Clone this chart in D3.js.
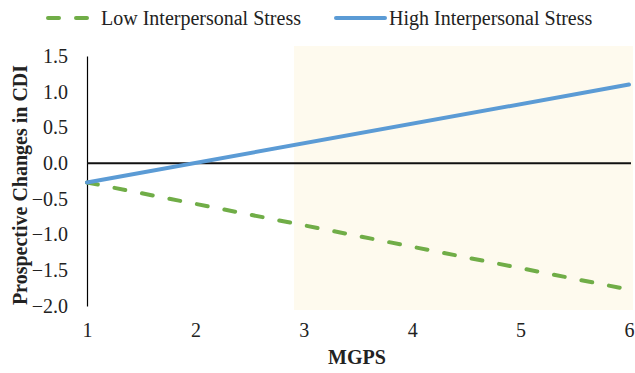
<!DOCTYPE html>
<html>
<head>
<meta charset="utf-8">
<script src="https://cdn.jsdelivr.net/npm/d3@7"></script>
<style>
  html, body { margin: 0; padding: 0; background: #fff; }
  svg { display: block; }
  text { font-family: "Liberation Serif", "Times New Roman", serif; fill: #222; }
</style>
</head>
<body>
<svg id="chart" width="635" height="373"></svg>
<script>
// ---- Data ----
const xTicks = [1, 2, 3, 4, 5, 6];
const yTicks = [1.5, 1.0, 0.5, 0.0, -0.5, -1.0, -1.5, -2.0];
const mgps = [1, 6];
const lowStress = [-0.27, -1.77];
const highStress = [-0.27, 1.10];
const regionStart = 2.91;   // start of shaded region (MGPS)
const seriesNames = ["Low Interpersonal Stress", "High Interpersonal Stress"];

// ---- Layout ----
const svg = d3.select("#chart");
const x = d3.scaleLinear().domain([1, 6]).range([87, 629]);
const y = d3.scaleLinear().domain([-2, 1.5]).range([306, 56]);

const green = "#70ad47", blue = "#5b9bd5";

// shaded region
svg.append("rect")
  .attr("x", x(regionStart))
  .attr("y", y(1.5) - 10)
  .attr("width", x(6) + 4 - x(regionStart))
  .attr("height", y(-2) + 4 - (y(1.5) - 10))
  .attr("fill", "#fefaee");

// y axis
const yAxis = svg.append("g")
  .attr("transform", `translate(${x(1)},0)`)
  .call(d3.axisLeft(y).tickValues(yTicks).tickSize(0).tickPadding(19).tickFormat(d3.format(".1f")));
yAxis.select(".domain").attr("stroke", "#000").attr("stroke-width", 1.2);
yAxis.selectAll("text").attr("font-size", 20).attr("font-family", "Liberation Serif").attr("fill", "#222");

// x axis (labels only)
const xAxis = svg.append("g")
  .attr("transform", `translate(0,${y(-2)})`)
  .call(d3.axisBottom(x).tickValues(xTicks).tickSize(0).tickPadding(17).tickFormat(d3.format("d")));
xAxis.select(".domain").remove();
xAxis.selectAll("text").attr("font-size", 20).attr("font-family", "Liberation Serif").attr("fill", "#222");

// zero line
svg.append("line")
  .attr("x1", x(1)).attr("x2", x(6) + 2)
  .attr("y1", y(0)).attr("y2", y(0))
  .attr("stroke", "#111").attr("stroke-width", 2);

const line = d3.line().x((d, i) => x(mgps[i])).y(d => y(d));

svg.append("path")
  .datum(lowStress)
  .attr("d", line)
  .attr("fill", "none")
  .attr("stroke", green)
  .attr("stroke-width", 4)
  .attr("stroke-linecap", "round")
  .attr("stroke-dasharray", "11,17");

svg.append("path")
  .datum(highStress)
  .attr("d", line)
  .attr("fill", "none")
  .attr("stroke", blue)
  .attr("stroke-width", 4)
  .attr("stroke-linecap", "round");

// axis titles
svg.append("text")
  .attr("transform", `translate(27,185) rotate(-90)`)
  .attr("text-anchor", "middle")
  .attr("font-size", 20)
  .attr("font-weight", "bold")
  .text("Prospective Changes in CDI");

svg.append("text")
  .attr("x", 357).attr("y", 364)
  .attr("text-anchor", "middle")
  .attr("font-size", 20)
  .attr("font-weight", "bold")
  .text("MGPS");

// legend
const lg = svg.append("g");
lg.append("line")
  .attr("x1", 48).attr("x2", 88).attr("y1", 18).attr("y2", 18)
  .attr("stroke", green).attr("stroke-width", 4)
  .attr("stroke-linecap", "round")
  .attr("stroke-dasharray", "11,17");
lg.append("text").attr("x", 101).attr("y", 25).attr("font-size", 20).text(seriesNames[0]);
lg.append("line")
  .attr("x1", 336).attr("x2", 385).attr("y1", 18).attr("y2", 18)
  .attr("stroke", blue).attr("stroke-width", 4)
  .attr("stroke-linecap", "round");
lg.append("text").attr("x", 389).attr("y", 25).attr("font-size", 20).text(seriesNames[1]);
</script>
</body>
</html>
